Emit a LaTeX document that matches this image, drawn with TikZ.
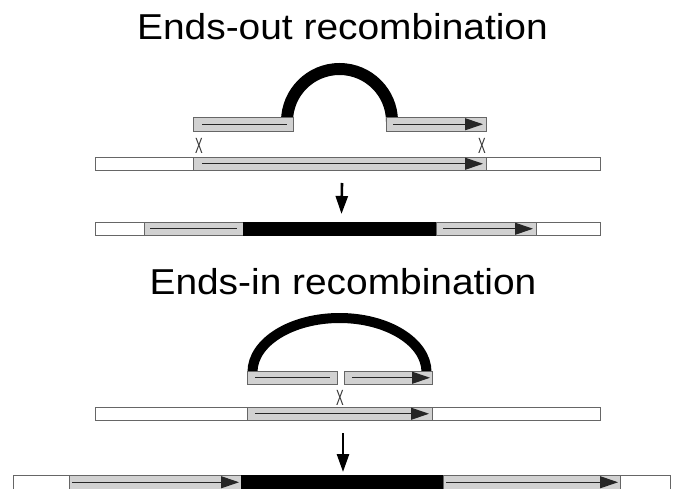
\documentclass[tikz,border=0pt]{standalone}
\usepackage{fontspec}
\setmainfont{Liberation Sans}
\usetikzlibrary{arrows.meta}

% one segment of a DNA bar: name, left x, right x, top y, style
\newcommand\dnaseg[5]{%
  \node[#5, anchor=north west, minimum width={(#3-#2)*1pt}] (#1) at (#2,#4) {};}

\tikzset{
  segbase/.style={rectangle, inner sep=0pt, outer sep=0pt, minimum height=13.5pt,
    draw=black!60, line width=0.8pt},
  flank/.style={segbase, fill=white},
  homol/.style={segbase, fill=black!18},
  marker/.style={segbase, fill=black, draw=black},
  strand/.style={line width=1.1pt, draw=black!85},
  strandtip/.style={strand, -{Triangle[length=18pt,width=12pt]}},
  loopline/.style={line width=#1, draw=black},
  stepdown/.style={line width=2.6pt, -{Triangle[length=18pt,width=12pt]}},
  heading/.style={font=\fontsize{36}{40}\selectfont, anchor=base, xscale=1.08, inner sep=0pt},
  xover/.style={font=\fontsize{22}{24}\selectfont, xscale=0.52, inner sep=0pt, text=black!80}
}

\begin{document}
\begin{tikzpicture}[x=1pt,y=-1pt]
\useasboundingbox (0,0) rectangle (674,489);

% ---------- ends-out ----------
\node[heading] (t1) at (342.5,39.3) {Ends-out recombination};

% targeting vector: two homology arms joined by the marker loop
\dnaseg{aoL}{193}{293}{117.5}{homol}
\dnaseg{aoR}{386}{486}{117.5}{homol}
\draw[loopline=12pt] ([xshift=-6pt,yshift=-4pt]aoL.north east)
  arc[start angle=180, end angle=360, radius=52.5];
\dnaseg{aoL}{193}{293}{117.5}{homol}
\dnaseg{aoR}{386}{486}{117.5}{homol}
\draw[strand] ([xshift=9pt]aoL.west) -- ([xshift=-6pt]aoL.east);
\draw[strandtip] ([xshift=7pt]aoR.west) -- ([xshift=-3pt]aoR.east);

% crossovers
\node[xover] (xo1) at (199,145.5) {X};
\node[xover] (xo2) at (482,145.5) {X};

% chromosome
\dnaseg{c1a}{95}{193}{157}{flank}
\dnaseg{c1b}{193}{486}{157}{homol}
\dnaseg{c1c}{486}{600}{157}{flank}
\draw[strandtip] ([xshift=9pt]c1b.west) -- ([xshift=-3pt]c1b.east);

% product
\dnaseg{r1a}{95}{144}{222}{flank}
\dnaseg{r1b}{144}{243}{222}{homol}
\dnaseg{r1c}{243}{436}{222}{marker}
\dnaseg{r1d}{436}{536}{222}{homol}
\dnaseg{r1e}{536}{600}{222}{flank}
\draw[strand] ([xshift=6pt]r1b.west) -- ([xshift=-6pt]r1b.east);
\draw[strandtip] ([xshift=7pt]r1d.west) -- ([xshift=-3pt]r1d.east);

\coordinate (s1) at (342,183);
\draw[stepdown] (s1) -- ([xshift=2pt,yshift=8pt]r1c.north);

% ---------- ends-in ----------
\node[heading] (t2) at (343,294.3) {Ends-in recombination};

\dnaseg{aiL}{247}{337}{371}{homol}
\dnaseg{aiR}{344}{432}{371}{homol}
\draw[loopline=10pt] ([xshift=5.5pt,yshift=-1pt]aiL.north west)
  arc[start angle=180, end angle=360, x radius=87, y radius=54];
\dnaseg{aiL}{247}{337}{371}{homol}
\dnaseg{aiR}{344}{432}{371}{homol}
\draw[strand] ([xshift=8pt]aiL.west) -- ([xshift=-7pt]aiL.east);
\draw[strandtip] ([xshift=8pt]aiR.west) -- ([xshift=-2pt]aiR.east);

\node[xover] (xo3) at (340,397.5) {X};

\dnaseg{c2a}{95}{247}{407}{flank}
\dnaseg{c2b}{247}{432}{407}{homol}
\dnaseg{c2c}{432}{600}{407}{flank}
\draw[strandtip] ([xshift=8pt]c2b.west) -- ([xshift=-3pt]c2b.east);

\dnaseg{r2a}{13}{69}{475.5}{flank}
\dnaseg{r2b}{69}{241}{475.5}{homol}
\dnaseg{r2c}{241}{443}{475.5}{marker}
\dnaseg{r2d}{443}{620}{475.5}{homol}
\dnaseg{r2e}{620}{670}{475.5}{flank}
\draw[strandtip] ([xshift=3pt]r2b.west) -- ([xshift=-2pt]r2b.east);
\draw[strandtip] ([xshift=3pt]r2d.west) -- ([xshift=-2pt]r2d.east);

\coordinate (s2) at (343,433);
\draw[stepdown] (s2) -- ([yshift=3.5pt]r2c.north -| s2);
\end{tikzpicture}
\end{document}
